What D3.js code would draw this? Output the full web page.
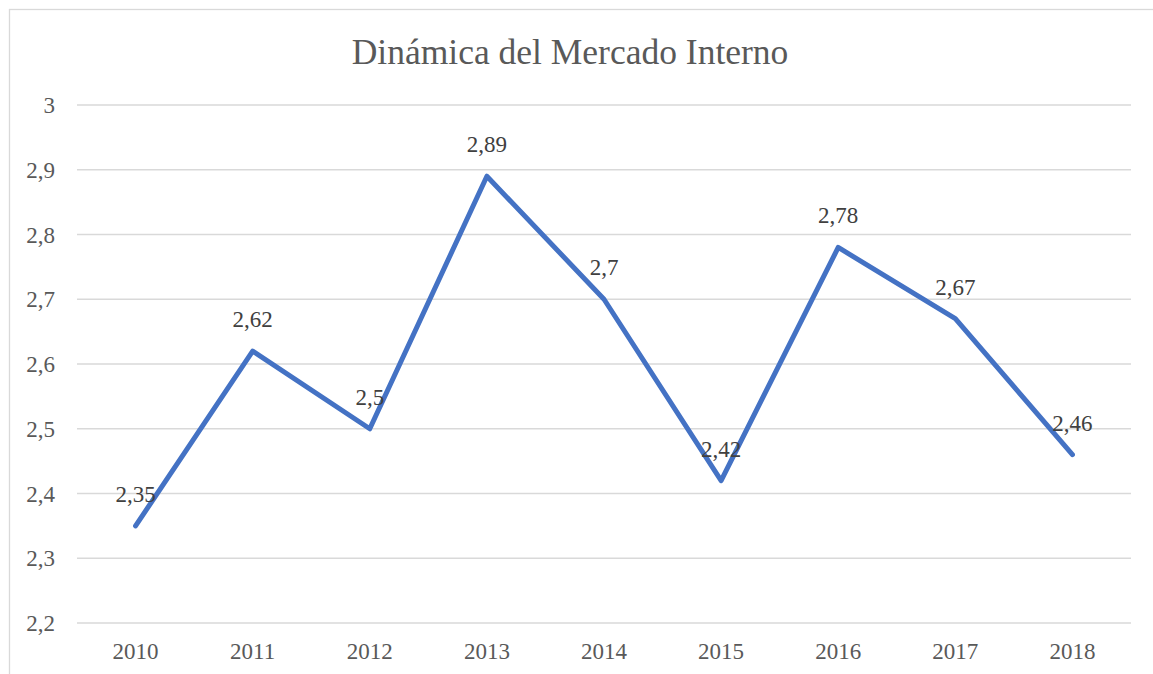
<!DOCTYPE html>
<html>
<head>
<meta charset="utf-8">
<script src="https://cdn.jsdelivr.net/npm/d3@7"></script>
<style>
  body { margin: 0; background: #fff; }
  svg { display: block; }
</style>
</head>
<body>
<div class="module"></div>
<script>
const years = ["2010", "2011", "2012", "2013", "2014", "2015", "2016", "2017", "2018"];
const values = [2.35, 2.62, 2.5, 2.89, 2.7, 2.42, 2.78, 2.67, 2.46];
const yTicks = [2.2, 2.3, 2.4, 2.5, 2.6, 2.7, 2.8, 2.9, 3];
const title = "Dinámica del Mercado Interno";

drawChart(d3.select('.module').node());

function drawChart(rootDOM) {
	const W = 1153;
	const H = 674;
	const font = "'Liberation Serif', 'Times New Roman', serif";
	const fmt = v => String(v).replace('.', ',');

	const svg = d3.select(rootDOM)
		.append('svg')
		.attr('width', W)
		.attr('height', H);

	// chart frame
	svg.append('rect')
		.attr('x', 9.5)
		.attr('y', 9.5)
		.attr('width', W + 20)
		.attr('height', H + 20)
		.attr('fill', '#fff')
		.attr('stroke', '#d9d9d9')
		.attr('stroke-width', 1.3);

	const x = d3.scaleBand().domain(years).range([77, 1131]);
	const y = d3.scaleLinear().domain([2.2, 3]).range([623, 105]);

	// gridlines
	svg.append('g')
		.selectAll('line')
		.data(yTicks)
		.join('line')
		.attr('x1', 77)
		.attr('x2', 1131)
		.attr('y1', d => y(d))
		.attr('y2', d => y(d))
		.attr('stroke', '#d9d9d9')
		.attr('stroke-width', 1.3);

	// y axis labels
	svg.append('g')
		.selectAll('text')
		.data(yTicks)
		.join('text')
		.attr('x', 55)
		.attr('y', d => y(d))
		.attr('dy', '0.35em')
		.attr('text-anchor', 'end')
		.attr('font-family', font)
		.attr('font-size', 23)
		.attr('fill', '#595959')
		.text(d => fmt(d));

	// x axis labels
	svg.append('g')
		.selectAll('text')
		.data(years)
		.join('text')
		.attr('x', d => x(d) + x.bandwidth() / 2)
		.attr('y', 659)
		.attr('text-anchor', 'middle')
		.attr('font-family', font)
		.attr('font-size', 23)
		.attr('fill', '#595959')
		.text(d => d);

	const pts = years.map((yr, i) => [x(yr) + x.bandwidth() / 2, y(values[i])]);

	svg.append('path')
		.datum(pts)
		.attr('d', d3.line())
		.attr('fill', 'none')
		.attr('stroke', '#4472c4')
		.attr('stroke-width', 5)
		.attr('stroke-linecap', 'round')
		.attr('stroke-linejoin', 'round');

	// data labels
	svg.append('g')
		.selectAll('text')
		.data(pts)
		.join('text')
		.attr('x', d => d[0])
		.attr('y', d => d[1] - 24)
		.attr('text-anchor', 'middle')
		.attr('font-family', font)
		.attr('font-size', 23)
		.attr('fill', '#404040')
		.text((d, i) => fmt(values[i]));

	svg.append('text')
		.attr('x', 570)
		.attr('y', 64)
		.attr('text-anchor', 'middle')
		.attr('font-family', font)
		.attr('font-size', 35.5)
		.attr('fill', '#595959')
		.text(title);
}
</script>
</body>
</html>
